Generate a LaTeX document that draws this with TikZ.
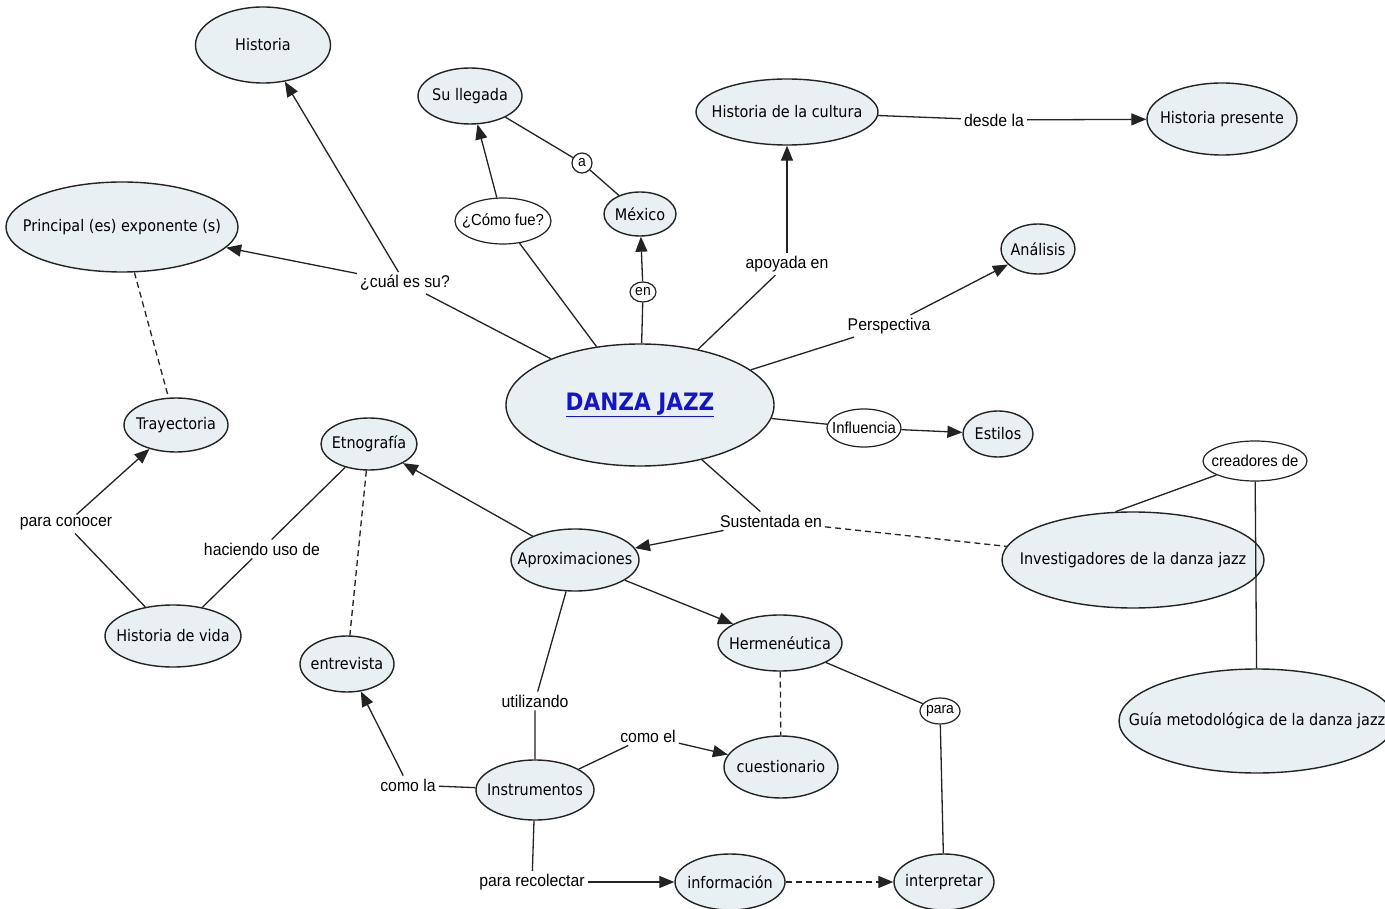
\documentclass[tikz,border=0pt]{standalone}
\usepackage{fontspec}
\newfontfamily\conceptfont[FakeStretch=0.9]{DejaVu Sans}
\newfontfamily\linkfont[FakeStretch=0.93]{Liberation Sans}
\usetikzlibrary{arrows.meta, shapes.geometric}

\definecolor{conceptfill}{RGB}{233,240,244}
\definecolor{edgegray}{RGB}{35,35,35}
\definecolor{danzablue}{RGB}{20,20,200}

\tikzset{
    zerobox/.style = {execute at begin node = {\hbox to 0pt\bgroup\hss},
                      execute at end node = {\hss\egroup}},
    concept/.style = {ellipse, draw = edgegray, line width = 1.4pt, fill = conceptfill,
                      inner sep = 0pt, zerobox, font = \conceptfont\fontsize{16}{18}\selectfont},
    linkoval/.style = {ellipse, draw = edgegray, line width = 1.2pt, fill = white,
                       inner sep = 0pt, zerobox, font = \linkfont\fontsize{16}{18}\selectfont},
    linkword/.style = {inner sep = 3pt, font = \linkfont\fontsize{17}{19}\selectfont},
    conn/.style = {draw = edgegray, line width = 1.3pt},
    arrowlink/.style = {conn, -{Triangle[length = 15pt, width = 12pt]}},
    dashlink/.style = {conn, dash pattern = on 6pt off 4pt},
}

\begin{document}
\begin{tikzpicture}[x = 1pt, y = -1pt]
    \fill[white] (0,0) rectangle (1385,909);
    \useasboundingbox (0,0) rectangle (1385,909);

    \node[concept, minimum width = 135pt, minimum height = 76pt] (historia) at (263,45) {Historia};
    \node[concept, minimum width = 104pt, minimum height = 56pt] (llegada) at (470,96) {Su llegada};
    \node[concept, minimum width = 182pt, minimum height = 66pt] (cultura) at (787,112) {Historia de la cultura};
    \node[concept, minimum width = 150pt, minimum height = 72pt] (presente) at (1222,119) {Historia presente};
    \node[concept, minimum width = 232pt, minimum height = 90pt] (exponente) at (122,227) {Principal (es) exponente (s)};
    \node[linkoval, minimum width = 96pt, minimum height = 46pt] (comofue) at (503,221) {¿Cómo fue?};
    \node[concept, minimum width = 72pt, minimum height = 44pt] (mexico) at (640,214) {México};
    \node[concept, minimum width = 74pt, minimum height = 50pt] (analisis) at (1038,249) {Análisis};
    \node[linkoval, minimum width = 20pt, minimum height = 20pt, font = \linkfont\fontsize{15}{17}\selectfont] (a) at (582,163) {a};
    \node[linkoval, minimum width = 26pt, minimum height = 20pt, font = \linkfont\fontsize{15}{17}\selectfont] (en) at (643,292) {en};
    \node[linkword] (apoyada) at (787,264) {apoyada en};
    \node[linkword] (perspectiva) at (889,326) {Perspectiva};
    \node[linkword] (cual) at (405,283) {¿cuál es su?};
    \node[linkword] (desde) at (994,120) {desde la};
    \node[concept, minimum width = 268pt, minimum height = 122pt, text = danzablue,
          font = \conceptfont\bfseries\fontsize{24}{28}\selectfont] (danza) at (640,405) {\underline{DANZA JAZZ}};
    \node[linkoval, minimum width = 74pt, minimum height = 38pt] (influencia) at (864,428) {Influencia};
    \node[concept, minimum width = 70pt, minimum height = 46pt] (estilos) at (998,434) {Estilos};
    \node[concept, minimum width = 104pt, minimum height = 54pt] (trayectoria) at (176,425) {Trayectoria};
    \node[concept, minimum width = 96pt, minimum height = 52pt] (etnografia) at (369,444) {Etnografía};
    \node[linkoval, minimum width = 104pt, minimum height = 40pt] (creadores) at (1255,461) {creadores de};
    \node[linkword] (conocer) at (66,524) {para conocer};
    \node[linkword] (uso) at (262,549) {haciendo uso de};
    \node[linkword] (sustentada) at (771,521) {Sustentada en};
    \node[concept, minimum width = 128pt, minimum height = 62pt] (aprox) at (575,560) {Aproximaciones};
    \node[concept, minimum width = 262pt, minimum height = 96pt] (investigadores) at (1133,560) {Investigadores de la danza jazz};
    \node[concept, minimum width = 136pt, minimum height = 62pt] (vida) at (173,636) {Historia de vida};
    \node[concept, minimum width = 94pt, minimum height = 56pt] (entrevista) at (347,664) {entrevista};
    \node[concept, minimum width = 124pt, minimum height = 56pt] (hermeneutica) at (780,643) {Hermenéutica};
    \node[linkword] (utilizando) at (535,701) {utilizando};
    \node[linkoval, minimum width = 40pt, minimum height = 26pt, font = \linkfont\fontsize{15}{17}\selectfont] (para) at (940,711) {para};
    \node[concept, minimum width = 276pt, minimum height = 104pt] (guia) at (1257,721) {Guía metodológica de la danza jazz};
    \node[linkword] (comoel) at (648,736) {como el};
    \node[concept, minimum width = 114pt, minimum height = 62pt] (cuestionario) at (781,767) {cuestionario};
    \node[linkword] (comola) at (408,785) {como la};
    \node[concept, minimum width = 118pt, minimum height = 60pt] (instrumentos) at (535,790) {Instrumentos};
    \node[linkword] (recolectar) at (532,882) {para recolectar};
    \node[concept, minimum width = 110pt, minimum height = 56pt] (informacion) at (730,882) {información};
    \node[concept, minimum width = 100pt, minimum height = 56pt] (interpretar) at (944,882) {interpretar};

    \draw[conn] (danza) -- (cual);
    \draw[arrowlink] (cual) -- (exponente);
    \draw[arrowlink] (cual) -- (historia);
    \draw[conn] (danza) -- (comofue);
    \draw[arrowlink] (comofue) -- (llegada);
    \draw[conn] (llegada) -- (a) -- (mexico);
    \draw[conn] (danza) -- (en);
    \draw[arrowlink] (en) -- (mexico);
    \draw[conn] (danza) -- (apoyada);
    \draw[arrowlink] (apoyada) -- (cultura);
    \draw[conn] (cultura) -- (desde);
    \draw[arrowlink] (desde) -- (presente);
    \draw[conn] (danza) -- (perspectiva);
    \draw[arrowlink] (perspectiva) -- (analisis);
    \draw[conn] (danza) -- (influencia);
    \draw[arrowlink] (influencia) -- (estilos);
    \draw[conn] (danza) -- (sustentada);
    \draw[arrowlink] (sustentada) -- (aprox);
    \draw[dashlink] (sustentada) -- (investigadores);
    \draw[conn] (investigadores.110) -- (creadores) -- (guia);
    \draw[arrowlink] (aprox) -- (etnografia);
    \draw[arrowlink] (aprox) -- (hermeneutica);
    \draw[conn] (aprox) -- (utilizando) -- (instrumentos);
    \draw[conn] (etnografia) -- (uso) -- (vida);
    \draw[dashlink] (etnografia) -- (entrevista);
    \draw[dashlink] (exponente) -- (trayectoria);
    \draw[conn] (vida) -- (conocer);
    \draw[arrowlink] (conocer) -- (trayectoria);
    \draw[conn] (instrumentos) -- (comola);
    \draw[arrowlink] (comola) -- (entrevista);
    \draw[conn] (instrumentos) -- (comoel);
    \draw[arrowlink] (comoel) -- (cuestionario);
    \draw[dashlink] (hermeneutica) -- (cuestionario);
    \draw[conn] (hermeneutica) -- (para) -- (interpretar);
    \draw[conn] (instrumentos) -- (recolectar);
    \draw[arrowlink] (recolectar) -- (informacion);
    \draw[arrowlink, dash pattern = on 6pt off 4pt] (informacion) -- (interpretar);
\end{tikzpicture}
\end{document}
